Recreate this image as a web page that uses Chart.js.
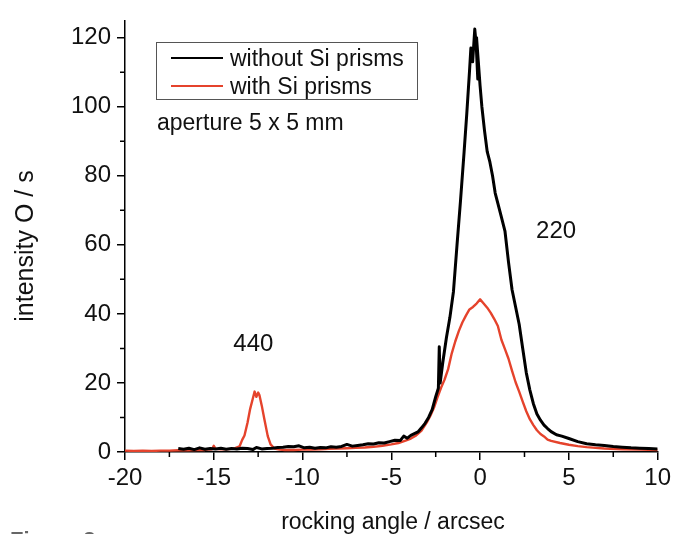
<!DOCTYPE html>
<html>
<head>
<meta charset="utf-8">
<script src="https://cdn.jsdelivr.net/npm/chart.js@4.4.1/dist/chart.umd.min.js"></script>
<style>
  html, body { margin: 0; padding: 0; background: #fff; }
</style>
</head>
<body>
<canvas id="rocking" width="675" height="534"></canvas>
<script>
// rocking curves (x in arcsec, y in counts/s)
const withoutX = [-17, -16.7, -16.4, -16.1, -15.8, -15.5, -15.2, -14.9, -14.6, -14.3, -14.0, -13.7, -13.4, -13.1, -12.8, -12.6, -12.3, -12.0, -11.7, -11.4, -11.1, -10.8, -10.5, -10.2, -9.9, -9.6, -9.3, -9.0, -8.7, -8.4, -8.1, -7.8, -7.5, -7.2, -6.9, -6.6, -6.3, -6.0, -5.7, -5.4, -5.1, -4.8, -4.5, -4.3, -4.1, -3.9, -3.7, -3.5, -3.3, -3.1, -2.9, -2.7, -2.5, -2.35, -2.3, -2.25, -2.1, -1.9, -1.7, -1.5, -1.3, -1.1, -0.9, -0.75, -0.6, -0.52, -0.42, -0.3, -0.22, -0.13, -0.2, -0.1, 0.0, 0.1, 0.25, 0.4, 0.55, 0.7, 0.85, 1.0, 1.2, 1.4, 1.6, 1.8, 2.0, 2.2, 2.4, 2.6, 2.8, 3.0, 3.2, 3.4, 3.6, 3.8, 4.0, 4.3, 4.6, 5.0, 5.5, 6.0, 6.5, 7.0, 7.5, 8.0, 8.5, 9.0, 9.5, 10.0];
const withoutY = [1.0, 0.8, 1.1, 0.7, 1.2, 0.8, 1.0, 0.9, 1.1, 0.8, 1.0, 0.9, 1.1, 1.0, 0.7, 1.3, 0.9, 1.0, 1.1, 1.3, 1.4, 1.6, 1.5, 1.8, 1.2, 1.4, 1.1, 1.3, 1.2, 1.5, 1.4, 1.6, 2.2, 1.7, 1.9, 2.1, 2.4, 2.3, 2.7, 2.6, 3.0, 3.4, 3.3, 4.6, 4.0, 4.8, 5.3, 5.8, 7.0, 8.3, 10.0, 12.3, 16.0, 18.5, 30.5, 20.0, 26.0, 33.0, 39.0, 46.5, 60.0, 73.0, 87.0, 98.0, 110.0, 117.0, 113.0, 122.5, 118.0, 108.0, 120.0, 113.0, 106.0, 100.0, 93.0, 87.0, 84.0, 80.0, 75.0, 72.0, 68.0, 64.0, 55.0, 47.0, 42.0, 37.0, 30.0, 23.0, 18.0, 14.0, 11.0, 9.2, 7.8, 6.8, 5.9, 5.0, 4.6, 3.9, 3.0, 2.4, 2.1, 1.9, 1.6, 1.4, 1.2, 1.1, 1.0, 0.9];

const withX = [-20, -19.5, -19, -18.5, -18, -17.5, -17, -16.5, -16, -15.5, -15.1, -15.0, -14.9, -14.6, -14.3, -14.0, -13.8, -13.55, -13.4, -13.27, -13.1, -12.95, -12.8, -12.7, -12.6, -12.5, -12.43, -12.3, -12.15, -11.96, -11.8, -11.59, -11.3, -11.0, -10.5, -10.0, -9.5, -9.0, -8.5, -8.0, -7.5, -7.0, -6.5, -6.0, -5.5, -5.0, -4.6, -4.2, -3.9, -3.6, -3.3, -3.0, -2.8, -2.6, -2.4, -2.2, -2.0, -1.8, -1.6, -1.4, -1.2, -1.0, -0.8, -0.6, -0.4, -0.2, 0.0, 0.2, 0.4, 0.6, 0.8, 1.0, 1.2, 1.4, 1.6, 1.8, 2.0, 2.2, 2.4, 2.6, 2.8, 3.0, 3.2, 3.4, 3.6, 3.8, 4.0, 4.5, 5.0, 5.5, 6.0, 6.5, 7.0, 8.0, 9.0, 10.0];
const withY = [0.4, 0.3, 0.4, 0.3, 0.4, 0.4, 0.5, 0.5, 0.6, 0.6, 0.8, 1.8, 0.9, 0.8, 0.8, 0.9, 1.1, 1.6, 3.5, 4.8, 8.5, 12.5, 15.5, 17.5, 16.0, 17.2, 16.5, 13.5, 9.5, 4.6, 2.2, 1.0, 0.7, 0.6, 0.6, 0.7, 0.7, 0.8, 0.9, 1.0, 1.1, 1.2, 1.3, 1.5, 1.8, 2.2, 2.6, 3.3, 3.9, 4.8, 6.2, 8.6, 10.5, 12.8, 15.8, 18.6, 21.0, 24.0, 28.5, 32.0, 35.0, 37.5, 39.5, 41.3, 42.0, 43.0, 44.2, 43.0, 41.8, 40.3, 38.5, 36.5, 32.5, 29.8, 27.0, 23.5, 20.2, 17.5, 14.6, 11.8, 9.5, 7.8, 6.3, 5.2, 4.5, 3.6, 3.2, 2.6, 2.1, 1.7, 1.4, 1.2, 1.0, 0.8, 0.7, 0.6];

const seriesNames = ["without Si prisms", "with Si prisms"];
const seriesColors = ["#000000", "#e5432c"];
const xTicks = [-20, -15, -10, -5, 0, 5, 10];
const yTicks = [0, 20, 40, 60, 80, 100, 120];
const xMinor = [-17.5, -12.5, -7.5, -2.5, 2.5, 7.5];
const yMinor = [10, 30, 50, 70, 90, 110];

const toPoints = (xs, ys) => xs.map((x, i) => ({ x: x, y: ys[i] }));
const FONT = '"Liberation Sans", Arial, sans-serif';

const extras = {
  id: 'extras',
  afterDraw(chart) {
    const ctx = chart.ctx;
    const xs = chart.scales.x, ys = chart.scales.y;
    const area = chart.chartArea;
    ctx.save();

    // minor ticks
    ctx.strokeStyle = '#000';
    ctx.lineWidth = 1.5;
    ctx.beginPath();
    xMinor.forEach(v => {
      const px = xs.getPixelForValue(v);
      ctx.moveTo(px, area.bottom);
      ctx.lineTo(px, area.bottom + 5);
    });
    yMinor.forEach(v => {
      const py = ys.getPixelForValue(v);
      ctx.moveTo(area.left, py);
      ctx.lineTo(area.left - 5, py);
    });
    ctx.stroke();

    // legend box
    ctx.strokeStyle = '#555';
    ctx.lineWidth = 1;
    ctx.strokeRect(156.5, 42.5, 261, 57);
    ctx.font = '23px ' + FONT;
    ctx.fillStyle = '#111';
    ctx.textBaseline = 'alphabetic';
    ctx.textAlign = 'left';
    [58, 86].forEach((y, i) => {
      ctx.strokeStyle = seriesColors[i];
      ctx.lineWidth = 2;
      ctx.beginPath();
      ctx.moveTo(171, y);
      ctx.lineTo(223, y);
      ctx.stroke();
      ctx.fillText(seriesNames[i], 230, y + 8);
    });

    ctx.fillText('aperture 5 x 5 mm', 157, 130);

    // peak labels
    ctx.font = '24px ' + FONT;
    ctx.textAlign = 'center';
    ctx.textBaseline = 'middle';
    ctx.fillText('440', xs.getPixelForValue(-12.77), ys.getPixelForValue(31.1));
    ctx.fillText('220', xs.getPixelForValue(4.28), ys.getPixelForValue(63.9));

    // axis titles
    ctx.font = '23px ' + FONT;
    ctx.textBaseline = 'alphabetic';
    ctx.fillText('rocking angle / arcsec', 393, 529);
    ctx.save();
    ctx.translate(33, 246);
    ctx.rotate(-Math.PI / 2);
    ctx.font = '25px ' + FONT;
    ctx.fillText('intensity O / s', 0, 0);
    ctx.restore();

    // caption, cut off at the bottom
    ctx.font = 'bold 22px ' + FONT;
    ctx.textAlign = 'left';
    ctx.fillStyle = '#666';
    ctx.fillText('Figure 2', 10, 547);

    ctx.restore();
  }
};

new Chart(document.getElementById('rocking'), {
  type: 'line',
  data: {
    datasets: [
      { label: seriesNames[0], data: toPoints(withoutX, withoutY), borderColor: seriesColors[0], borderWidth: 3 },
      { label: seriesNames[1], data: toPoints(withX, withY), borderColor: seriesColors[1], borderWidth: 2.4 }
    ]
  },
  options: {
    responsive: false,
    animation: false,
    events: [],
    layout: { padding: { left: 0, right: 15, top: 17, bottom: 0 } },
    elements: { point: { radius: 0 }, line: { tension: 0, fill: false, borderJoinStyle: 'round' } },
    plugins: { legend: { display: false }, tooltip: { enabled: false } },
    scales: {
      x: {
        type: 'linear',
        min: -20,
        max: 10,
        afterFit: s => { s.height = 82; },
        afterBuildTicks: s => { s.ticks = xTicks.map(v => ({ value: v })); },
        grid: { display: true, drawOnChartArea: false, drawTicks: true, tickLength: 8, color: '#000', lineWidth: 1.5 },
        border: { display: true, color: '#000', width: 1.5 },
        ticks: { color: '#111', font: { family: FONT, size: 24 }, padding: 4, maxRotation: 0 }
      },
      y: {
        min: 0,
        max: 125,
        afterFit: s => { s.width = 125; },
        afterBuildTicks: s => { s.ticks = yTicks.map(v => ({ value: v })); },
        grid: { display: true, drawOnChartArea: false, drawTicks: true, tickLength: 8, color: '#000', lineWidth: 1.5 },
        border: { display: true, color: '#000', width: 1.5 },
        ticks: { color: '#111', font: { family: FONT, size: 24 }, padding: 6 }
      }
    }
  },
  plugins: [extras]
});
</script>
</body>
</html>
